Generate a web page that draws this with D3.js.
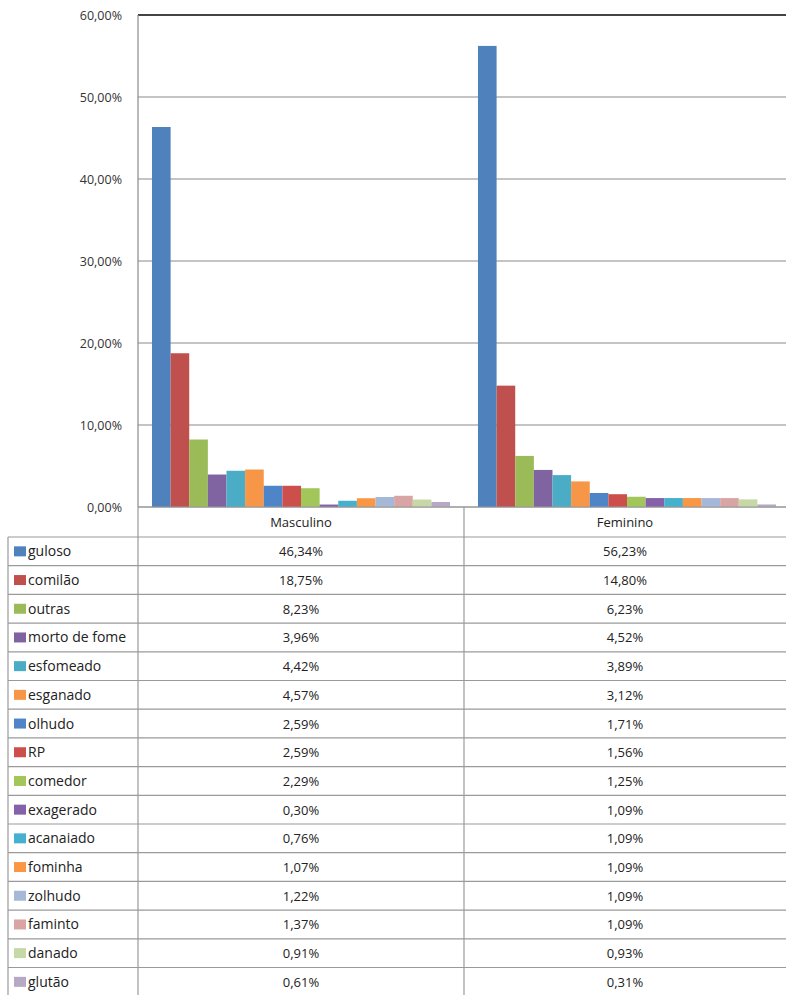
<!DOCTYPE html>
<html><head><meta charset="utf-8">
<script src="https://cdn.jsdelivr.net/npm/d3@7"></script>
<style>body{margin:0;background:#fff}svg{display:block}</style>
</head><body>
<script>
const groups = ["Masculino", "Feminino"];
const series = ["guloso","comilão","outras","morto de fome","esfomeado","esganado","olhudo","RP","comedor","exagerado","acanaiado","fominha","zolhudo","faminto","danado","glutão"];
const masculino = [46.34,18.75,8.23,3.96,4.42,4.57,2.59,2.59,2.29,0.30,0.76,1.07,1.22,1.37,0.91,0.61];
const feminino  = [56.23,14.80,6.23,4.52,3.89,3.12,1.71,1.56,1.25,1.09,1.09,1.09,1.09,1.09,0.93,0.31];
const colors = ["#4F81BD","#C0504D","#9BBB59","#8064A2","#4BACC6","#F79646","#4E85C9","#CD4F4C","#A2C65A","#8461A8","#46B0CF","#FA9745","#A5B8D8","#D9A5A4","#C5D8A5","#B5A9C6"];
const yTicks = [0,10,20,30,40,50,60];

(function(){
const W = 786, H = 995;
const pLeft = 138, pRight = 790, pTop = 15, pBottom = 507;
const fmt = v => v.toFixed(2).replace(".", ",") + "%";
const values = [masculino, feminino];

const svg = d3.select("body").append("svg").attr("width", W).attr("height", H)
  .style("font-family", "'Open Sans', sans-serif");

const y = d3.scaleLinear().domain([0, 60]).range([pBottom, pTop]);
const x0 = d3.scaleBand().domain(groups).range([pLeft, pRight]);
const x1 = d3.scaleBand().domain(series).range([0, x0.bandwidth()]).paddingInner(0).paddingOuter(0.75);

svg.append("g").selectAll("line").data(yTicks).join("line")
  .attr("x1", pLeft).attr("x2", W).attr("y1", d => y(d)).attr("y2", d => y(d))
  .attr("stroke", d => d === 60 ? "#444" : "#8a8a8a").attr("stroke-width", d => d === 60 ? 2 : 1.2);

svg.append("g").selectAll("text").data(yTicks).join("text")
  .attr("x", 122).attr("y", d => y(d) + 4.5).attr("text-anchor", "end")
  .attr("font-size", 12.5).attr("fill", "#333").text(d => d.toFixed(2).replace(".", ",") + "%");

groups.forEach((g, gi) => {
  svg.append("g").selectAll("rect").data(series).join("rect")
    .attr("x", s => x0(g) + x1(s)).attr("width", x1.bandwidth())
    .attr("y", (s, i) => y(values[gi][i])).attr("height", (s, i) => pBottom - y(values[gi][i]))
    .attr("fill", (s, i) => colors[i]);
});

svg.append("line").attr("x1", pLeft).attr("x2", pLeft).attr("y1", pTop).attr("y2", pBottom)
  .attr("stroke", "#8a8a8a").attr("stroke-width", 1.2);

const rowTop = 537, rowH = 28.7, tLeft = 8;
const lineC = "#9a9a9a";
const tg = svg.append("g");
tg.append("line").attr("x1", pLeft).attr("x2", W).attr("y1", pBottom).attr("y2", pBottom).attr("stroke", lineC).attr("stroke-width", 1.2);
groups.forEach(g => {
  tg.append("text").attr("x", x0(g) + x0.bandwidth() / 2 - (g === "Feminino" ? 2 : 0)).attr("y", 527)
    .attr("text-anchor", "middle").attr("font-size", 13).attr("fill", "#222").text(g);
});
d3.range(series.length + 1).forEach(i => {
  tg.append("line").attr("x1", tLeft).attr("x2", W)
    .attr("y1", rowTop + i * rowH).attr("y2", rowTop + i * rowH).attr("stroke", lineC).attr("stroke-width", 1.2);
});
tg.append("line").attr("x1", tLeft).attr("x2", tLeft).attr("y1", rowTop).attr("y2", H).attr("stroke", lineC).attr("stroke-width", 1.2);
tg.append("line").attr("x1", pLeft).attr("x2", pLeft).attr("y1", pBottom).attr("y2", H).attr("stroke", lineC).attr("stroke-width", 1.2);
tg.append("line").attr("x1", x0("Feminino")).attr("x2", x0("Feminino")).attr("y1", pBottom).attr("y2", H).attr("stroke", lineC).attr("stroke-width", 1.2);

series.forEach((s, i) => {
  const cy = rowTop + i * rowH + rowH / 2;
  tg.append("rect").attr("x", 14).attr("y", cy - 5).attr("width", 12).attr("height", 10).attr("fill", colors[i]);
  tg.append("text").attr("x", 28).attr("y", cy + 5).attr("font-size", 14).attr("fill", "#222").text(s);
  groups.forEach((g, gi) => {
    tg.append("text").attr("x", x0(g) + x0.bandwidth() / 2 - (g === "Feminino" ? 2 : 0)).attr("y", cy + 5)
      .attr("text-anchor", "middle").attr("font-size", 13).attr("fill", "#222").text(fmt(values[gi][i]));
  });
});
})();
</script>
</body></html>
